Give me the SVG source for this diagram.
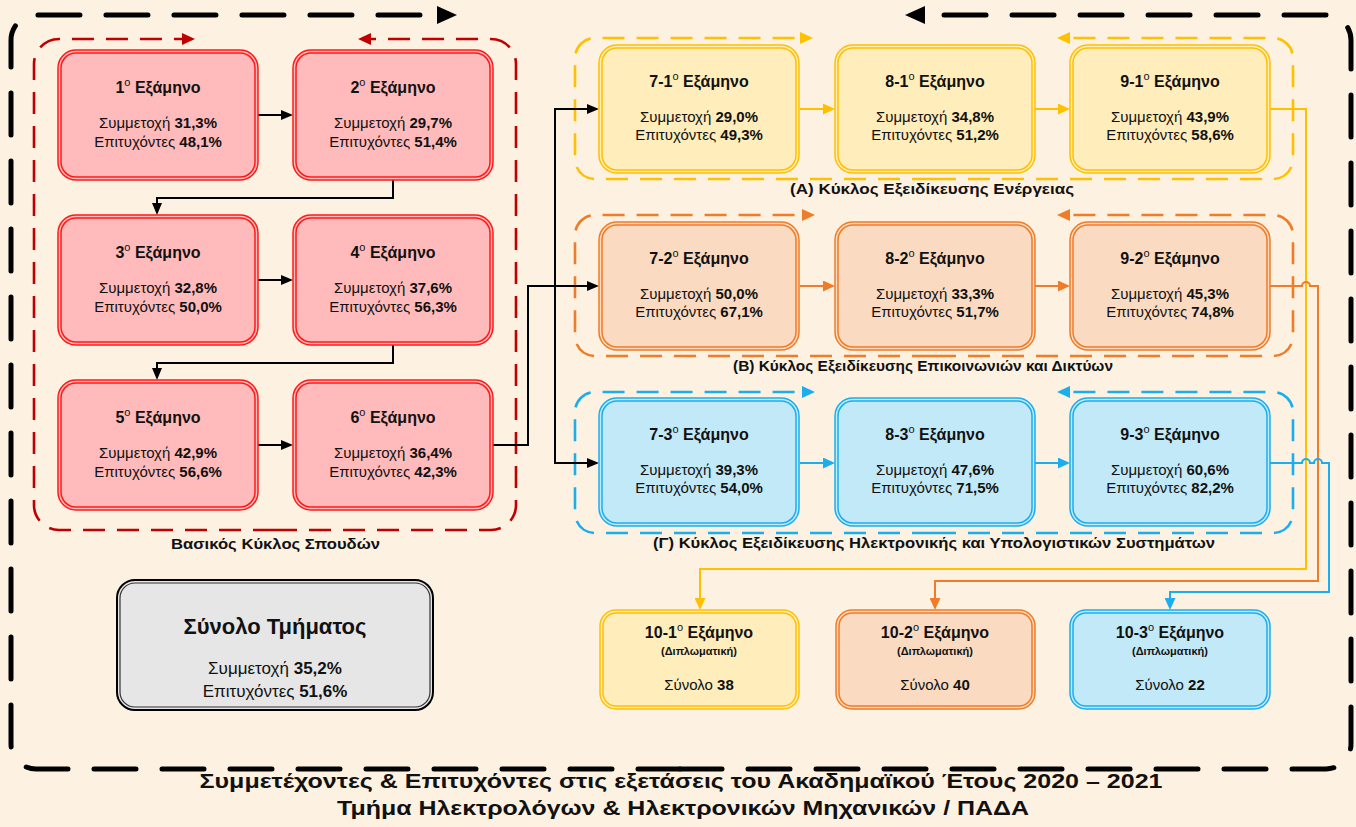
<svg xmlns="http://www.w3.org/2000/svg" width="1356" height="827" viewBox="0 0 1356 827">
<defs>
<style>
text{font-family:"Liberation Sans",Arial,sans-serif;fill:#111}
.ti{font-size:16px;font-weight:bold;text-anchor:middle}
.st{font-size:15px;text-anchor:middle}
.lb{font-size:15px;font-weight:bold;text-anchor:middle}
.sm{font-size:11px;font-weight:bold;text-anchor:middle}
.b{font-weight:bold}
.sup{font-size:11px;font-weight:normal}
.ln{fill:none}
.nr{fill:#FFBBBB;stroke:#FF1A1A;stroke-width:1.5}
.nri{fill:none;stroke:#FF1A1A;stroke-width:1.5}
.ny{fill:#FFEDBB;stroke:#FFC000;stroke-width:1.5}
.nyi{fill:none;stroke:#FFC000;stroke-width:1.5}
.no{fill:#FADBC1;stroke:#EE7C28;stroke-width:1.5}
.noi{fill:none;stroke:#EE7C28;stroke-width:1.5}
.nb{fill:#C2E9F8;stroke:#1BAEEC;stroke-width:1.5}
.nbi{fill:none;stroke:#1BAEEC;stroke-width:1.5}
.ng{fill:#E6E6E6;stroke:#000;stroke-width:2}
.ngi{fill:none;stroke:#333;stroke-width:1.2}
.gd{fill:none;stroke-width:2.6;stroke-dasharray:22 12}
</style>
<marker id="mOut" markerUnits="userSpaceOnUse" markerWidth="20" markerHeight="18" refX="2" refY="9" orient="auto"><path d="M0,0 L20,9 L0,18 z" fill="#000"/></marker>
<marker id="mK" markerUnits="userSpaceOnUse" markerWidth="12" markerHeight="10" refX="2" refY="5" orient="auto"><path d="M0,0 L12,5 L0,10 z" fill="#000"/></marker>
<marker id="mY" markerUnits="userSpaceOnUse" markerWidth="12" markerHeight="11" refX="2" refY="5.5" orient="auto"><path d="M0,0 L12,5.5 L0,11 z" fill="#FFC000"/></marker>
<marker id="mO" markerUnits="userSpaceOnUse" markerWidth="12" markerHeight="11" refX="2" refY="5.5" orient="auto"><path d="M0,0 L12,5.5 L0,11 z" fill="#EE7C28"/></marker>
<marker id="mB" markerUnits="userSpaceOnUse" markerWidth="12" markerHeight="11" refX="2" refY="5.5" orient="auto"><path d="M0,0 L12,5.5 L0,11 z" fill="#1BAEEC"/></marker>
<marker id="gR" markerUnits="userSpaceOnUse" markerWidth="13" markerHeight="12" refX="2" refY="6" orient="auto"><path d="M0,0 L13,6 L0,12 z" fill="#C00000"/></marker>
<marker id="gY" markerUnits="userSpaceOnUse" markerWidth="13" markerHeight="12" refX="2" refY="6" orient="auto"><path d="M0,0 L13,6 L0,12 z" fill="#FFC000"/></marker>
<marker id="gO" markerUnits="userSpaceOnUse" markerWidth="13" markerHeight="12" refX="2" refY="6" orient="auto"><path d="M0,0 L13,6 L0,12 z" fill="#EE7C28"/></marker>
<marker id="gB" markerUnits="userSpaceOnUse" markerWidth="13" markerHeight="12" refX="2" refY="6" orient="auto"><path d="M0,0 L13,6 L0,12 z" fill="#1BAEEC"/></marker>
</defs>
<rect x="0" y="0" width="1356" height="827" fill="#FDF2E2"/>

<g id="outer-cycle">
<path class="ln" d="M680 769 H36 A25 25 0 0 1 11 744 V40 A25 25 0 0 1 36 15 H439" stroke="#000" stroke-width="5" stroke-linecap="round" stroke-dasharray="42 26" marker-end="url(#mOut)"/>
<path class="ln" d="M680 769 H1326 A25 25 0 0 0 1351 744 V40 A25 25 0 0 0 1326 15 H923" stroke="#000" stroke-width="5" stroke-linecap="round" stroke-dasharray="42 26" marker-end="url(#mOut)"/>
</g>

<g id="group-basic">
<path class="gd" stroke="#C00000" d="M275 530 H59 A25 25 0 0 1 34 505 V64 A25 25 0 0 1 59 39 H184" marker-end="url(#gR)"/>
<path class="gd" stroke="#C00000" d="M275 530 H491 A25 25 0 0 0 516 505 V64 A25 25 0 0 0 491 39 H369" marker-end="url(#gR)"/>
<text class="lb" x="275.5" y="549" textLength="209" lengthAdjust="spacingAndGlyphs">Βασικός Κύκλος Σπουδών</text>
</g>
<g id="group-A">
<path class="gd" stroke="#FFC000" d="M934 179 H595 A20 20 0 0 1 575 159 V58 A20 20 0 0 1 595 38 H802" marker-end="url(#gY)"/>
<path class="gd" stroke="#FFC000" d="M934 179 H1273 A20 20 0 0 0 1293 159 V58 A20 20 0 0 0 1273 38 H1068" marker-end="url(#gY)"/>
<text class="lb" x="932" y="194" textLength="284" lengthAdjust="spacingAndGlyphs">(Α) Κύκλος Εξειδίκευσης Ενέργειας</text>
</g>
<g id="group-B">
<path class="gd" stroke="#EE7C28" d="M934 356 H595 A20 20 0 0 1 575 336 V235 A20 20 0 0 1 595 215 H804" marker-end="url(#gO)"/>
<path class="gd" stroke="#EE7C28" d="M934 356 H1273 A20 20 0 0 0 1293 336 V235 A20 20 0 0 0 1273 215 H1068" marker-end="url(#gO)"/>
<text class="lb" x="923" y="371" textLength="380" lengthAdjust="spacingAndGlyphs">(Β) Κύκλος Εξειδίκευσης Επικοινωνιών και Δικτύων</text>
</g>
<g id="group-C">
<path class="gd" stroke="#1BAEEC" d="M934 533 H595 A20 20 0 0 1 575 513 V412 A20 20 0 0 1 595 392 H804" marker-end="url(#gB)"/>
<path class="gd" stroke="#1BAEEC" d="M934 533 H1273 A20 20 0 0 0 1293 513 V412 A20 20 0 0 0 1273 392 H1068" marker-end="url(#gB)"/>
<text class="lb" x="934" y="548" textLength="562" lengthAdjust="spacingAndGlyphs">(Γ) Κύκλος Εξειδίκευσης Ηλεκτρονικής και Υπολογιστικών Συστημάτων</text>
</g>

<g id="connectors" fill="none" stroke-width="2">
<g stroke="#000">
<path d="M258 115 H283" marker-end="url(#mK)"/>
<path d="M258 280 H283" marker-end="url(#mK)"/>
<path d="M258 445 H283" marker-end="url(#mK)"/>
<path d="M393 180 V198 H157 V205" marker-end="url(#mK)"/>
<path d="M393 345 V363 H157 V370" marker-end="url(#mK)"/>
<path d="M493 445 H528 V286 H589" marker-end="url(#mK)"/>
<path d="M555 286 V109 H589" marker-end="url(#mK)"/>
<path d="M555 286 V463 H589" marker-end="url(#mK)"/>
</g>
<g stroke="#FFC000">
<path d="M800 109 H825" marker-end="url(#mY)"/>
<path d="M1035 109 H1060" marker-end="url(#mY)"/>
<path d="M1270 109 H1306 V569 H700 V600" marker-end="url(#mY)"/>
</g>
<g stroke="#EE7C28">
<path d="M800 286 H825" marker-end="url(#mO)"/>
<path d="M1035 286 H1060" marker-end="url(#mO)"/>
<path d="M1270 286 H1302 A4 4 0 0 1 1310 286 H1318 V581 H935 V600" marker-end="url(#mO)"/>
</g>
<g stroke="#1BAEEC">
<path d="M800 463 H825" marker-end="url(#mB)"/>
<path d="M1035 463 H1060" marker-end="url(#mB)"/>
<path d="M1270 463 H1302 A4 4 0 0 1 1310 463 H1314 A4 4 0 0 1 1322 463 H1329 V592 H1170 V600" marker-end="url(#mB)"/>
</g>
</g>

<g id="sem1"><rect class="nr" x="58" y="50" width="200" height="130" rx="18"/><rect class="nri" x="61" y="53" width="194" height="124" rx="15"/>
<text class="ti" x="158" y="93">1<tspan class="sup" dy="-7">o</tspan><tspan dy="7"> Εξάμηνο</tspan></text>
<text class="st" x="158" y="128">Συμμετοχή <tspan class="b">31,3%</tspan></text><text class="st" x="158" y="147">Επιτυχόντες <tspan class="b">48,1%</tspan></text></g>
<g id="sem2"><rect class="nr" x="293" y="50" width="200" height="130" rx="18"/><rect class="nri" x="296" y="53" width="194" height="124" rx="15"/>
<text class="ti" x="393" y="93">2<tspan class="sup" dy="-7">o</tspan><tspan dy="7"> Εξάμηνο</tspan></text>
<text class="st" x="393" y="128">Συμμετοχή <tspan class="b">29,7%</tspan></text><text class="st" x="393" y="147">Επιτυχόντες <tspan class="b">51,4%</tspan></text></g>
<g id="sem3"><rect class="nr" x="58" y="215" width="200" height="130" rx="18"/><rect class="nri" x="61" y="218" width="194" height="124" rx="15"/>
<text class="ti" x="158" y="258">3<tspan class="sup" dy="-7">o</tspan><tspan dy="7"> Εξάμηνο</tspan></text>
<text class="st" x="158" y="293">Συμμετοχή <tspan class="b">32,8%</tspan></text><text class="st" x="158" y="312">Επιτυχόντες <tspan class="b">50,0%</tspan></text></g>
<g id="sem4"><rect class="nr" x="293" y="215" width="200" height="130" rx="18"/><rect class="nri" x="296" y="218" width="194" height="124" rx="15"/>
<text class="ti" x="393" y="258">4<tspan class="sup" dy="-7">o</tspan><tspan dy="7"> Εξάμηνο</tspan></text>
<text class="st" x="393" y="293">Συμμετοχή <tspan class="b">37,6%</tspan></text><text class="st" x="393" y="312">Επιτυχόντες <tspan class="b">56,3%</tspan></text></g>
<g id="sem5"><rect class="nr" x="58" y="380" width="200" height="130" rx="18"/><rect class="nri" x="61" y="383" width="194" height="124" rx="15"/>
<text class="ti" x="158" y="423">5<tspan class="sup" dy="-7">o</tspan><tspan dy="7"> Εξάμηνο</tspan></text>
<text class="st" x="158" y="458">Συμμετοχή <tspan class="b">42,9%</tspan></text><text class="st" x="158" y="477">Επιτυχόντες <tspan class="b">56,6%</tspan></text></g>
<g id="sem6"><rect class="nr" x="293" y="380" width="200" height="130" rx="18"/><rect class="nri" x="296" y="383" width="194" height="124" rx="15"/>
<text class="ti" x="393" y="423">6<tspan class="sup" dy="-7">o</tspan><tspan dy="7"> Εξάμηνο</tspan></text>
<text class="st" x="393" y="458">Συμμετοχή <tspan class="b">36,4%</tspan></text><text class="st" x="393" y="477">Επιτυχόντες <tspan class="b">42,3%</tspan></text></g>

<g id="sem7-1"><rect class="ny" x="599" y="45" width="200" height="128" rx="18"/><rect class="nyi" x="602" y="48" width="194" height="122" rx="15"/>
<text class="ti" x="699" y="87">7-1<tspan class="sup" dy="-7">o</tspan><tspan dy="7"> Εξάμηνο</tspan></text>
<text class="st" x="699" y="122">Συμμετοχή <tspan class="b">29,0%</tspan></text><text class="st" x="699" y="140">Επιτυχόντες <tspan class="b">49,3%</tspan></text></g>
<g id="sem8-1"><rect class="ny" x="835" y="45" width="200" height="128" rx="18"/><rect class="nyi" x="838" y="48" width="194" height="122" rx="15"/>
<text class="ti" x="935" y="87">8-1<tspan class="sup" dy="-7">o</tspan><tspan dy="7"> Εξάμηνο</tspan></text>
<text class="st" x="935" y="122">Συμμετοχή <tspan class="b">34,8%</tspan></text><text class="st" x="935" y="140">Επιτυχόντες <tspan class="b">51,2%</tspan></text></g>
<g id="sem9-1"><rect class="ny" x="1070" y="45" width="200" height="128" rx="18"/><rect class="nyi" x="1073" y="48" width="194" height="122" rx="15"/>
<text class="ti" x="1170" y="87">9-1<tspan class="sup" dy="-7">o</tspan><tspan dy="7"> Εξάμηνο</tspan></text>
<text class="st" x="1170" y="122">Συμμετοχή <tspan class="b">43,9%</tspan></text><text class="st" x="1170" y="140">Επιτυχόντες <tspan class="b">58,6%</tspan></text></g>

<g id="sem7-2"><rect class="no" x="599" y="222" width="200" height="128" rx="18"/><rect class="noi" x="602" y="225" width="194" height="122" rx="15"/>
<text class="ti" x="699" y="264">7-2<tspan class="sup" dy="-7">o</tspan><tspan dy="7"> Εξάμηνο</tspan></text>
<text class="st" x="699" y="299">Συμμετοχή <tspan class="b">50,0%</tspan></text><text class="st" x="699" y="317">Επιτυχόντες <tspan class="b">67,1%</tspan></text></g>
<g id="sem8-2"><rect class="no" x="835" y="222" width="200" height="128" rx="18"/><rect class="noi" x="838" y="225" width="194" height="122" rx="15"/>
<text class="ti" x="935" y="264">8-2<tspan class="sup" dy="-7">o</tspan><tspan dy="7"> Εξάμηνο</tspan></text>
<text class="st" x="935" y="299">Συμμετοχή <tspan class="b">33,3%</tspan></text><text class="st" x="935" y="317">Επιτυχόντες <tspan class="b">51,7%</tspan></text></g>
<g id="sem9-2"><rect class="no" x="1070" y="222" width="200" height="128" rx="18"/><rect class="noi" x="1073" y="225" width="194" height="122" rx="15"/>
<text class="ti" x="1170" y="264">9-2<tspan class="sup" dy="-7">o</tspan><tspan dy="7"> Εξάμηνο</tspan></text>
<text class="st" x="1170" y="299">Συμμετοχή <tspan class="b">45,3%</tspan></text><text class="st" x="1170" y="317">Επιτυχόντες <tspan class="b">74,8%</tspan></text></g>

<g id="sem7-3"><rect class="nb" x="599" y="398" width="200" height="128" rx="18"/><rect class="nbi" x="602" y="401" width="194" height="122" rx="15"/>
<text class="ti" x="699" y="440">7-3<tspan class="sup" dy="-7">o</tspan><tspan dy="7"> Εξάμηνο</tspan></text>
<text class="st" x="699" y="475">Συμμετοχή <tspan class="b">39,3%</tspan></text><text class="st" x="699" y="493">Επιτυχόντες <tspan class="b">54,0%</tspan></text></g>
<g id="sem8-3"><rect class="nb" x="835" y="398" width="200" height="128" rx="18"/><rect class="nbi" x="838" y="401" width="194" height="122" rx="15"/>
<text class="ti" x="935" y="440">8-3<tspan class="sup" dy="-7">o</tspan><tspan dy="7"> Εξάμηνο</tspan></text>
<text class="st" x="935" y="475">Συμμετοχή <tspan class="b">47,6%</tspan></text><text class="st" x="935" y="493">Επιτυχόντες <tspan class="b">71,5%</tspan></text></g>
<g id="sem9-3"><rect class="nb" x="1070" y="398" width="200" height="128" rx="18"/><rect class="nbi" x="1073" y="401" width="194" height="122" rx="15"/>
<text class="ti" x="1170" y="440">9-3<tspan class="sup" dy="-7">o</tspan><tspan dy="7"> Εξάμηνο</tspan></text>
<text class="st" x="1170" y="475">Συμμετοχή <tspan class="b">60,6%</tspan></text><text class="st" x="1170" y="493">Επιτυχόντες <tspan class="b">82,2%</tspan></text></g>

<g id="sem10-1"><rect class="ny" x="600" y="610" width="199" height="99" rx="16"/><rect class="nyi" x="603" y="613" width="193" height="93" rx="13"/>
<text class="ti" x="699" y="638">10-1<tspan class="sup" dy="-7">o</tspan><tspan dy="7"> Εξάμηνο</tspan></text>
<text class="sm" x="699" y="655">(Διπλωματική)</text>
<text class="st" x="699" y="690" font-size="14">Σύνολο <tspan class="b">38</tspan></text></g>
<g id="sem10-2"><rect class="no" x="836" y="610" width="199" height="99" rx="16"/><rect class="noi" x="839" y="613" width="193" height="93" rx="13"/>
<text class="ti" x="935" y="638">10-2<tspan class="sup" dy="-7">o</tspan><tspan dy="7"> Εξάμηνο</tspan></text>
<text class="sm" x="935" y="655">(Διπλωματική)</text>
<text class="st" x="935" y="690" font-size="14">Σύνολο <tspan class="b">40</tspan></text></g>
<g id="sem10-3"><rect class="nb" x="1070" y="610" width="200" height="99" rx="16"/><rect class="nbi" x="1073" y="613" width="194" height="93" rx="13"/>
<text class="ti" x="1170" y="638">10-3<tspan class="sup" dy="-7">o</tspan><tspan dy="7"> Εξάμηνο</tspan></text>
<text class="sm" x="1170" y="655">(Διπλωματική)</text>
<text class="st" x="1170" y="690" font-size="14">Σύνολο <tspan class="b">22</tspan></text></g>

<g id="total"><rect class="ng" x="117" y="580" width="316" height="130" rx="18"/><rect class="ngi" x="120" y="583" width="310" height="124" rx="15"/>
<text x="275" y="634" font-size="22" font-weight="bold" text-anchor="middle">Σύνολο Τμήματος</text>
<text x="275" y="674" font-size="17" text-anchor="middle">Συμμετοχή <tspan class="b">35,2%</tspan></text>
<text x="275" y="697" font-size="17" text-anchor="middle">Επιτυχόντες <tspan class="b">51,6%</tspan></text></g>

<g id="title">
<text x="681" y="788" font-size="20" font-weight="bold" text-anchor="middle" textLength="963" lengthAdjust="spacingAndGlyphs">Συμμετέχοντες &amp; Επιτυχόντες στις εξετάσεις του Ακαδημαϊκού Έτους 2020 – 2021</text>
<text x="683" y="815" font-size="20" font-weight="bold" text-anchor="middle" textLength="692" lengthAdjust="spacingAndGlyphs">Τμήμα Ηλεκτρολόγων &amp; Ηλεκτρονικών Μηχανικών / ΠΑΔΑ</text>
</g>
</svg>
